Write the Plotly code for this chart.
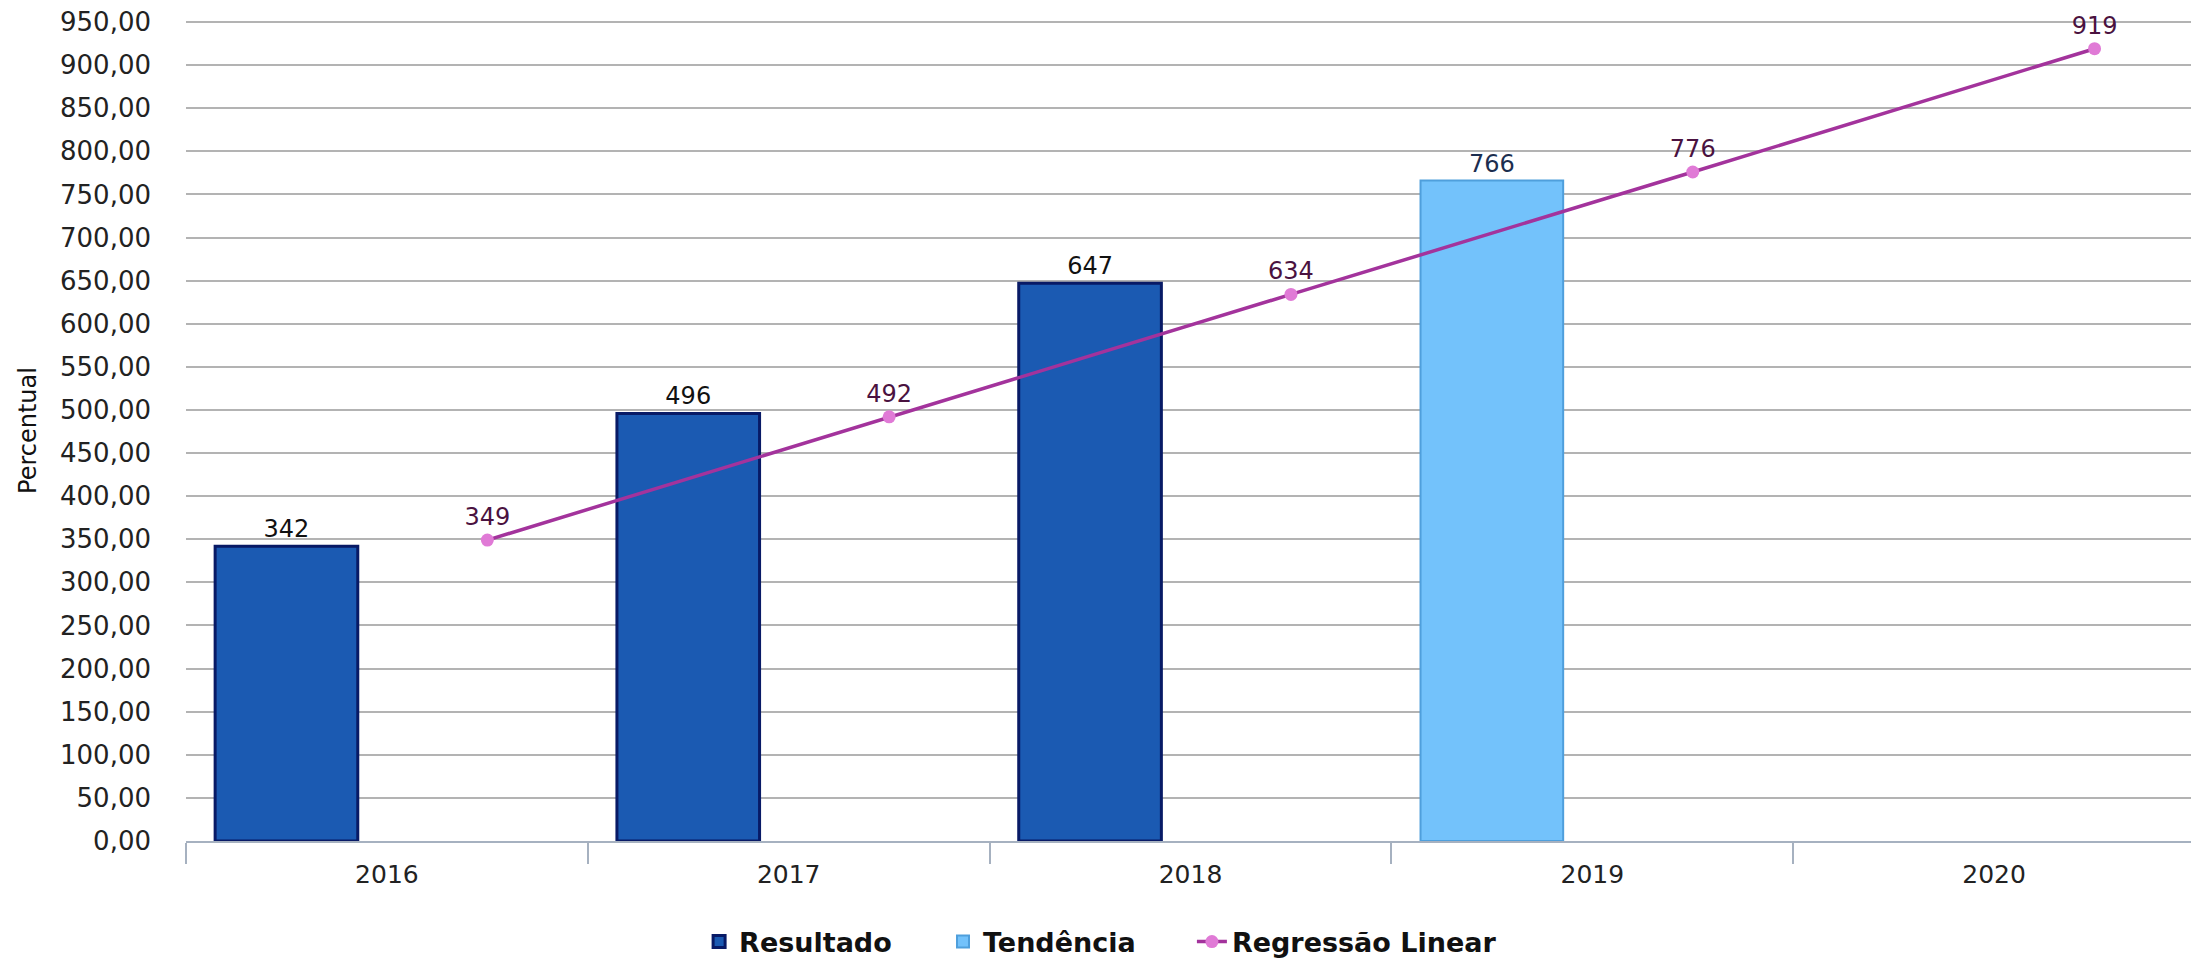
import numpy as np
import plotly.graph_objects as go

years = ["2016", "2017", "2018", "2019", "2020"]
resultado = [342, 496, 647, None, None]
tendencia = [None, None, None, 766, None]
regressao = [349, 492, 634, 776, 919]
y_ticks = np.arange(0, 951, 50)

idx = np.arange(len(years))
bar_x = idx - 0.25
reg_x = idx + 0.25
bounds = np.arange(len(years) + 1) - 0.5

font = "DejaVu Sans"
legend_font = dict(family=font, size=27, color="#111111", weight="bold")

fig = go.Figure()

fig.add_trace(go.Bar(
    x=bar_x, y=resultado, name="Resultado", width=0.355, legend="legend",
    marker=dict(color="#1b5ab2", line=dict(color="#081a66", width=3)),
    text=resultado, textposition="outside",
    textfont=dict(family=font, size=24, color="#111111"),
    cliponaxis=False,
))
fig.add_trace(go.Bar(
    x=bar_x, y=tendencia, name="Tendência", width=0.355, legend="legend2",
    marker=dict(color="#73c2fb", line=dict(color="#4f9fdc", width=2)),
    text=tendencia, textposition="outside",
    textfont=dict(family=font, size=24, color="#1c2e4f"),
    cliponaxis=False,
))
fig.add_trace(go.Scatter(
    x=reg_x, y=regressao, name="Regressão Linear", mode="lines+markers+text",
    legend="legend3",
    line=dict(color="#a3339c", width=3.5),
    marker=dict(color="#e07ad6", size=13),
    text=regressao, textposition="top center",
    textfont=dict(family=font, size=24, color="#4a1240"),
    cliponaxis=False,
))

# page has an 8px body margin, so the figure is sized to fit the window
fig.update_layout(
    width=2191, height=951,
    margin=dict(l=178, r=4, t=12, b=118, autoexpand=False),
    plot_bgcolor="white", paper_bgcolor="white",
    separators=",.",
    font=dict(family=font, size=24, color="#222222"),
    barmode="overlay",
    showlegend=True,
    legend=dict(orientation="h", x=0.2554, xanchor="left", y=-0.123,
                yanchor="middle", font=legend_font),
    legend2=dict(orientation="h", x=0.3768, xanchor="left", y=-0.123,
                 yanchor="middle", font=legend_font),
    legend3=dict(orientation="h", x=0.5007, xanchor="left", y=-0.123,
                 yanchor="middle", font=legend_font),
)

fig.update_xaxes(
    range=[-0.5, 4.5], tickmode="array", tickvals=idx, ticktext=years,
    ticks="", ticklabelstandoff=10, showgrid=False, zeroline=False,
    automargin=False,
    showline=True, linecolor="#a6b1c0", linewidth=2,
    tickfont=dict(family=font, size=25, color="#222222"),
    minor=dict(tickmode="array", tickvals=bounds, ticks="outside",
               ticklen=21, tickwidth=2, tickcolor="#a6b1c0", showgrid=False),
)
fig.update_yaxes(
    range=[0, 952.3], tickmode="array", tickvals=y_ticks, tickformat=".2f",
    automargin=False, ticklabeloverflow="allow",
    showgrid=True, gridcolor="#b3b3b3", gridwidth=2, zeroline=False,
    showline=False, ticks="", ticklabelstandoff=34,
    tickfont=dict(family=font, size=26, color="#222222"),
    title=dict(text="Percentual", standoff=16,
               font=dict(family=font, size=24, color="#111111")),
)

fig.write_html("out.html")
